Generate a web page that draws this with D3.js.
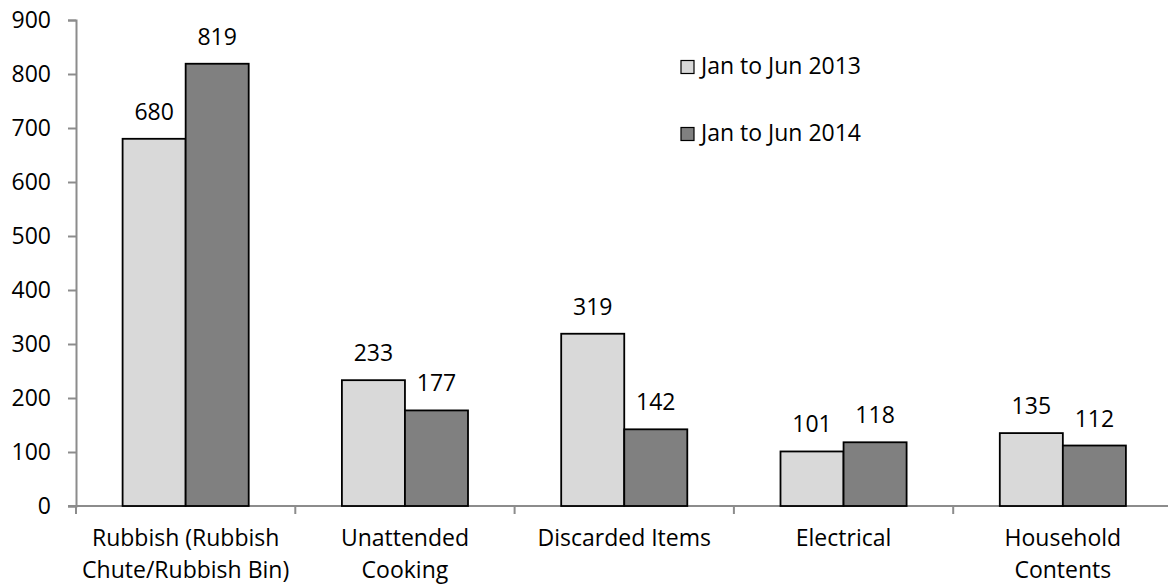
<!DOCTYPE html>
<html>
<head>
<meta charset="utf-8">
<script src="https://cdn.jsdelivr.net/npm/d3@7"></script>
<style>
  html, body { margin: 0; padding: 0; background: #fff; }
  svg { display: block; }
  text { font-family: "Open Sans", sans-serif; fill: #000; }
</style>
</head>
<body>
<svg id="chart" width="1168" height="585"></svg>
<script>
const categories = [
  ["Rubbish (Rubbish", "Chute/Rubbish Bin)"],
  ["Unattended", "Cooking"],
  ["Discarded Items"],
  ["Electrical"],
  ["Household", "Contents"]
];
const seriesNames = ["Jan to Jun 2013", "Jan to Jun 2014"];
const values2013 = [680, 233, 319, 101, 135];
const values2014 = [819, 177, 142, 118, 112];
const yTicks = [0, 100, 200, 300, 400, 500, 600, 700, 800, 900];
const seriesColors = ["#d9d9d9", "#808080"];

const svg = d3.select("#chart");
const fontSize = 23;
const axisColor = "#8c8c8c";

const catKeys = categories.map(c => c.join(" "));
const x = d3.scaleBand().domain(catKeys).range([76, 1172.5]).paddingInner(0).paddingOuter(0);
const y = d3.scaleLinear().domain([0, 900]).range([506, 20]);
const bw = x.bandwidth();
const xs = d3.scaleBand().domain(seriesNames).range([bw * 0.2125, bw * 0.7875]).padding(0);

const data = catKeys.map((k, i) => ({ key: k, lines: categories[i], vals: [values2013[i], values2014[i]] }));

// Y axis
const yAxis = d3.axisLeft(y).tickValues(yTicks).tickSize(8).tickPadding(17);
const gy = svg.append("g").attr("transform", "translate(76,0)").call(yAxis);
gy.select(".domain").attr("stroke", axisColor).attr("stroke-width", 2);
gy.selectAll(".tick line").attr("stroke", axisColor).attr("stroke-width", 2);
gy.selectAll(".tick text").attr("font-size", fontSize).attr("font-family", "Open Sans").attr("fill", "#000");

// X axis
const xAxis = d3.axisBottom(x).tickValues([]).tickSizeOuter(0);
const gx = svg.append("g").attr("transform", "translate(0,506)").call(xAxis);
gx.select(".domain").attr("stroke", axisColor).attr("stroke-width", 2).attr("d", "M" + (68) + ",0H1172.5");
// category separator ticks
const bounds = catKeys.map(k => x(k)).concat([x(catKeys[catKeys.length - 1]) + bw]);
gx.selectAll("line.sep").data(bounds).enter().append("line")
  .attr("class", "sep")
  .attr("x1", d => d).attr("x2", d => d)
  .attr("y1", 0).attr("y2", 8)
  .attr("stroke", axisColor).attr("stroke-width", 2);

// Bars
const groups = svg.append("g").selectAll("g.cat").data(data).enter().append("g")
  .attr("class", "cat").attr("transform", d => `translate(${x(d.key)},0)`);

groups.selectAll("rect").data(d => d.vals.map((v, j) => ({ v, s: seriesNames[j], j }))).enter().append("rect")
  .attr("x", d => xs(d.s))
  .attr("y", d => y(d.v))
  .attr("width", xs.bandwidth())
  .attr("height", d => y(0) - y(d.v))
  .attr("fill", d => seriesColors[d.j])
  .attr("stroke", "#000")
  .attr("stroke-width", 1.8);

groups.selectAll("text.val").data(d => d.vals.map((v, j) => ({ v, s: seriesNames[j] }))).enter().append("text")
  .attr("class", "val")
  .attr("x", d => xs(d.s) + xs.bandwidth() / 2)
  .attr("y", d => y(d.v) - 19)
  .attr("text-anchor", "middle")
  .attr("font-size", fontSize)
  .text(d => d.v);

// Category labels
groups.each(function(d) {
  const t = d3.select(this).append("text")
    .attr("text-anchor", "middle")
    .attr("font-size", fontSize);
  d.lines.forEach((ln, i) => {
    t.append("tspan").attr("x", bw / 2).attr("y", 546 + i * 32).text(ln);
  });
});

// Legend
const legend = svg.append("g").selectAll("g.leg").data(seriesNames).enter().append("g")
  .attr("transform", (d, i) => `translate(681,${60.5 + i * 67})`);
legend.append("rect").attr("width", 13).attr("height", 13)
  .attr("fill", (d, i) => seriesColors[i]).attr("stroke", "#000").attr("stroke-width", 1.2);
legend.append("text").attr("x", 20).attr("y", 13).attr("font-size", fontSize).text(d => d);
</script>
</body>
</html>
